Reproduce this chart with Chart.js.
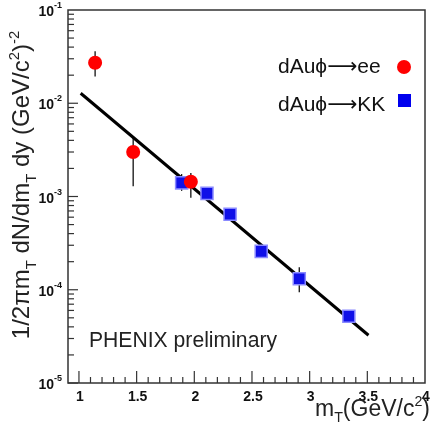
<!DOCTYPE html>
<html>
<head>
<meta charset="utf-8">
<script src="https://cdn.jsdelivr.net/npm/chart.js@4.4.1/dist/chart.umd.min.js"></script>
<style>
  html, body { margin: 0; background: #fff; }
  #wrap { width: 435px; height: 431px; }
</style>
</head>
<body>
<div id="wrap"><canvas id="c"></canvas></div>
<script>
// dAu phi -> ee
const eeX = [1.14, 1.47, 1.97];
const eeY = [0.0272, 0.0030, 0.00144];
const eeLo = [0.0193, 0.00129, 0.00097];
const eeHi = [0.036, 0.0043, 0.00179];
// dAu phi -> KK
const kkX = [1.89, 2.11, 2.31, 2.58, 2.91, 3.34];
const kkY = [0.00140, 0.00108, 0.000646, 0.000258, 0.000131, 0.000052];
const kkLo = [0.00115, 0.00093, 0.00058, 0.00023, 0.000094, 0.000047];
const kkHi = [0.00174, 0.00125, 0.00072, 0.00029, 0.000174, 0.000058];
// exponential fit, end points
const fitX = [1.015, 3.51];
const fitY = [0.0128, 0.0000325];

const xTicks = [1, 1.5, 2, 2.5, 3, 3.5, 4];
const yExps = [-1, -2, -3, -4, -5];

const pts = (xs, ys) => xs.map((x, i) => ({ x: x, y: ys[i] }));
const FONT = '"Liberation Sans", Arial, "DejaVu Sans", sans-serif';

// text with sub/superscripts, left aligned at x
function richWidth(ctx, parts, size) {
  let w = 0;
  parts.forEach(p => {
    ctx.font = (p.s ? size * 0.62 : size) + "px " + FONT;
    w += ctx.measureText(p.t).width;
  });
  return w;
}
function drawRich(ctx, parts, x, y, size) {
  parts.forEach(p => {
    ctx.font = (p.s ? size * 0.62 : size) + "px " + FONT;
    let dy = 0;
    if (p.s === "sub") dy = size * 0.28;
    if (p.s === "sup") dy = -size * 0.42;
    ctx.fillText(p.t, x, y + dy);
    x += ctx.measureText(p.t).width;
  });
}

const decor = {
  id: "decor",
  beforeDatasetsDraw(chart) {
    const ctx = chart.ctx;
    const xs = chart.scales.x, ys = chart.scales.y;
    ctx.save();
    ctx.strokeStyle = "#111";
    ctx.lineWidth = 1.3;
    const bars = (X, L, H) => X.forEach((x, i) => {
      const px = xs.getPixelForValue(x);
      ctx.beginPath();
      ctx.moveTo(px, ys.getPixelForValue(L[i]));
      ctx.lineTo(px, ys.getPixelForValue(H[i]));
      ctx.stroke();
    });
    bars(eeX, eeLo, eeHi);
    bars(kkX, kkLo, kkHi);
    ctx.restore();
  },
  afterDraw(chart) {
    const ctx = chart.ctx;
    const a = chart.chartArea;
    const xs = chart.scales.x, ys = chart.scales.y;
    ctx.save();
    // frame
    ctx.strokeStyle = "#333";
    ctx.lineWidth = 1.5;
    ctx.strokeRect(a.left, a.top, a.right - a.left, a.bottom - a.top);

    // bottom ticks
    ctx.lineWidth = 1.2;
    for (let k = 9; k <= 40; k++) {
      const px = xs.getPixelForValue(k / 10);
      if (px < a.left + 1 || px > a.right - 1) continue;
      const len = k % 5 === 0 ? 12 : 6;
      ctx.beginPath();
      ctx.moveTo(px, a.bottom);
      ctx.lineTo(px, a.bottom - len);
      ctx.stroke();
    }
    // left ticks
    for (let e = -5; e <= -2; e++) {
      for (let m = 1; m <= 9; m++) {
        const py = ys.getPixelForValue(m * Math.pow(10, e));
        const len = m === 1 ? 10 : 6;
        ctx.beginPath();
        ctx.moveTo(a.left, py);
        ctx.lineTo(a.left + len, py);
        ctx.stroke();
      }
    }

    // x tick labels
    ctx.fillStyle = "#111";
    ctx.textAlign = "center";
    ctx.textBaseline = "alphabetic";
    ctx.font = "bold 14px " + FONT;
    xTicks.forEach(v => {
      ctx.fillText(String(v), xs.getPixelForValue(v) + 1, a.bottom + 18);
    });
    // y tick labels
    ctx.textAlign = "left";
    yExps.forEach(e => {
      const py = ys.getPixelForValue(Math.pow(10, e));
      ctx.font = "bold 14px " + FONT;
      const w1 = ctx.measureText("10").width;
      ctx.font = "bold 9px " + FONT;
      const w2 = ctx.measureText(String(e)).width;
      const x0 = a.left - 6 - w1 - w2;
      ctx.font = "bold 14px " + FONT;
      ctx.fillText("10", x0, py + 6);
      ctx.font = "bold 9px " + FONT;
      ctx.fillText(String(e), x0 + w1, py - 2);
    });

    // axis titles
    ctx.fillStyle = "#222";
    const xt = [{ t: "m" }, { t: "T", s: "sub" }, { t: "(GeV/c" }, { t: "2", s: "sup" }, { t: ")" }];
    drawRich(ctx, xt, 315, 416, 23);

    const yt = [{ t: "1/2\u03c0m" }, { t: "T", s: "sub" }, { t: " dN/dm" }, { t: "T", s: "sub" },
                { t: " dy (GeV/c" }, { t: "2", s: "sup" }, { t: ")" }, { t: "-2", s: "sup" }];
    const yw = richWidth(ctx, yt, 24);
    ctx.translate(29, 185);
    ctx.rotate(-Math.PI / 2);
    drawRich(ctx, yt, -yw / 2, 0, 24);
    ctx.setTransform(1, 0, 0, 1, 0, 0);

    // legend
    ctx.fillStyle = "#111";
    ctx.font = "21px " + FONT;
    ctx.fillText("dAu\u03d5\u27f6ee", 278, 73);
    ctx.fillText("dAu\u03d5\u27f6KK", 278, 111);
    ctx.fillStyle = "#f00";
    ctx.beginPath();
    ctx.arc(404, 67, 7, 0, Math.PI * 2);
    ctx.fill();
    ctx.fillStyle = "#0000ee";
    ctx.fillRect(398, 94, 13, 13);

    // annotation
    ctx.fillStyle = "#222";
    ctx.font = "22px " + FONT;
    ctx.fillText("PHENIX preliminary", 89, 347, 188);
    ctx.restore();
  }
};

new Chart(document.getElementById("c"), {
  type: "scatter",
  data: {
    datasets: [
      {
        label: "dAu\u03d5\u2192ee",
        data: pts(eeX, eeY),
        pointStyle: "circle",
        pointRadius: 7,
        backgroundColor: "#ff0000",
        borderColor: "#ff0000",
        borderWidth: 0
      },
      {
        label: "dAu\u03d5\u2192KK",
        data: pts(kkX, kkY),
        pointStyle: "rect",
        pointRadius: 8.5,
        backgroundColor: "#1010e8",
        borderColor: "#8a8aff",
        borderWidth: 1.5
      },
      {
        label: "fit",
        data: pts(fitX, fitY),
        showLine: true,
        borderColor: "#000",
        borderWidth: 3,
        pointRadius: 0
      }
    ]
  },
  options: {
    responsive: true,
    maintainAspectRatio: false,
    animation: false,
    layout: { padding: { left: 68, right: 7, top: 8, bottom: 48 } },
    scales: {
      x: { type: "linear", min: 0.905, max: 4.0, display: false },
      y: { type: "logarithmic", min: 1e-5, max: 1e-1, display: false }
    },
    plugins: {
      legend: { display: false },
      tooltip: { enabled: false }
    }
  },
  plugins: [decor]
});
</script>
</body>
</html>
